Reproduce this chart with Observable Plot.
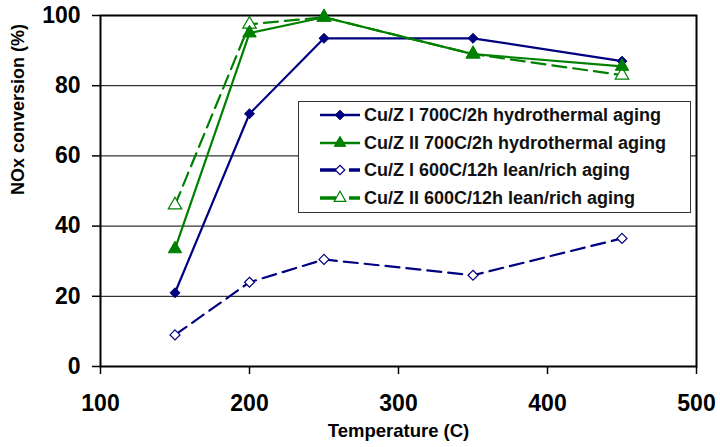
<!DOCTYPE html>
<html>
<head>
<meta charset="utf-8">
<script src="https://cdn.jsdelivr.net/npm/d3@7"></script>
<script src="https://cdn.jsdelivr.net/npm/@observablehq/plot@0.6"></script>
<style>
  body { margin: 0; background: #fff; }
  #wrap { position: relative; width: 720px; height: 447px; font-family: "Liberation Sans", Arial, sans-serif; }
  #legend { position: absolute; left: 298px; top: 101px; width: 391px; height: 110px; background: #fff; border: 1.5px solid #333; }
  .row { position: absolute; left: 0; height: 28px; width: 100%; }
  .row svg { position: absolute; left: 21px; top: 4px; }
  .row span { position: absolute; left: 65px; top: 0; line-height: 28px; font-size: 18px; font-weight: bold; color: #111; white-space: nowrap; }
</style>
</head>
<body>
<div id="wrap"></div>
<script>
// ---- data ----
const temps = [150, 200, 250, 350, 450];
const cuZI_700hydro = [21, 72, 93.5, 93.5, 87];
const cuZII_700hydro = [33.5, 95, 99.5, 89, 85.5];
const cuZI_600lean = [9, 24, 30.5, 26, 36.5];
const cuZII_600lean = [46, 97.5, 99.5, 89, 83];
const seriesNames = [
  "Cu/Z I 700C/2h hydrothermal aging",
  "Cu/Z II 700C/2h hydrothermal aging",
  "Cu/Z I 600C/12h lean/rich aging",
  "Cu/Z II 600C/12h lean/rich aging"
];
const xTicks = [100, 200, 300, 400, 500];
const yTicks = [0, 20, 40, 60, 80, 100];
const xLabel = "Temperature (C)";
const yLabel = "NOx conversion (%)";

// ---- styling per series ----
const navy = "#000080", green = "#008000";
const series = [
  {name: seriesNames[0], values: cuZI_700hydro, color: navy, dash: null, symbol: "diamond2", open: false},
  {name: seriesNames[1], values: cuZII_700hydro, color: green, dash: null, symbol: "triangle", open: false},
  {name: seriesNames[2], values: cuZI_600lean, color: navy, dash: "14,7", symbol: "diamond2", open: true},
  {name: seriesNames[3], values: cuZII_600lean, color: green, dash: "14,7", symbol: "triangle", open: true}
];
const rowsOf = s => temps.map((t, i) => ({temp: t, value: s.values[i], series: s.name}));

const marks = [
  Plot.gridY([20, 40, 60, 80], {stroke: "#000", strokeOpacity: 1, strokeWidth: 1}),
  Plot.axisY(yTicks, {tickSize: 8, tickPadding: 12, fontSize: 23, fontWeight: "bold", stroke: "#000", strokeWidth: 1.5, fill: "#000", label: null}),
  Plot.axisX(xTicks, {tickSize: 8, tickPadding: 20, fontSize: 23, fontWeight: "bold", stroke: "#000", strokeWidth: 1.5, fill: "#000", label: null}),
  Plot.frame({stroke: "#000", strokeWidth: 2}),
  Plot.text([yLabel], {frameAnchor: "left", text: d => d, rotate: -90, dx: -82, dy: 4, fontSize: 18, fontWeight: "bold", fill: "#000"}),
  Plot.text([xLabel], {frameAnchor: "bottom", text: d => d, dy: 70, fontSize: 18.5, fontWeight: "bold", fill: "#000"})
];
for (const s of [series[2], series[3], series[0], series[1]]) {
  const rows = rowsOf(s);
  marks.push(Plot.line(rows, {x: "temp", y: "value", stroke: s.color, strokeWidth: 2.2, strokeDasharray: s.dash}));
  marks.push(Plot.dot(rows, {x: "temp", y: "value", symbol: () => s.symbol, r: s.symbol === "triangle" ? 5 : 4.5,
    fill: s.open ? "#fff" : s.color, stroke: s.color, strokeWidth: s.open ? 1.2 : 1}));
}

const chart = Plot.plot({
  width: 720,
  height: 447,
  marginLeft: 100,
  marginRight: 24,
  marginTop: 15,
  marginBottom: 81,
  x: {domain: [100, 500]},
  y: {domain: [0, 100]},
  symbol: {type: "identity"},
  style: {fontFamily: "'Liberation Sans', Arial, sans-serif", background: "#fff", color: "#000"},
  marks
});
const wrap = document.getElementById("wrap");
wrap.appendChild(chart);

// ---- legend ----
const legend = document.createElement("div");
legend.id = "legend";
wrap.appendChild(legend);
const symMap = {diamond2: d3.symbolDiamond2, triangle: d3.symbolTriangle};
series.forEach((s, i) => {
  const row = document.createElement("div");
  row.className = "row";
  row.style.top = (i * 27.7 - 1) + "px";
  const svg = d3.create("svg").attr("width", 44).attr("height", 20);
  if (s.dash) {
    svg.append("line").attr("x1", 0).attr("x2", 16).attr("y1", 10).attr("y2", 10).attr("stroke", s.color).attr("stroke-width", 3.5);
    svg.append("line").attr("x1", 29).attr("x2", 40).attr("y1", 10).attr("y2", 10).attr("stroke", s.color).attr("stroke-width", 3.5);
  } else {
    svg.append("line").attr("x1", 0).attr("x2", 40).attr("y1", 10).attr("y2", 10).attr("stroke", s.color).attr("stroke-width", 2.5);
  }
  const r = s.symbol === "triangle" ? 4.3 : 4.3;
  svg.append("path")
    .attr("d", d3.symbol(symMap[s.symbol], Math.PI * r * r)())
    .attr("transform", "translate(20,10)")
    .attr("fill", s.open ? "#fff" : s.color)
    .attr("stroke", s.color)
    .attr("stroke-width", s.open ? 1.2 : 1);
  row.appendChild(svg.node());
  const span = document.createElement("span");
  span.textContent = s.name;
  row.appendChild(span);
  legend.appendChild(row);
});
</script>
</body>
</html>
